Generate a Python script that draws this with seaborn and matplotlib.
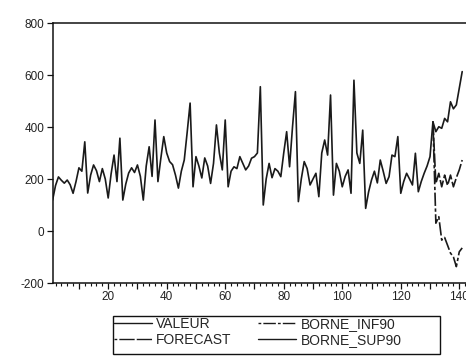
import numpy as np
import pandas as pd
import matplotlib
matplotlib.use("Agg")
import matplotlib.pyplot as plt
from matplotlib.ticker import MultipleLocator, FuncFormatter
from matplotlib.lines import Line2D
from matplotlib.patches import Rectangle
import seaborn as sns

# Observed series, periods 1..131
valeur = [
    119, 175, 208, 195, 184, 196, 178, 145, 190, 243,
    230, 343, 146, 215, 254, 232, 190, 240, 200, 127,
    220, 292, 190, 357, 119, 180, 223, 243, 225, 254,
    210, 119, 250, 324, 210, 427, 190, 280, 363, 300,
    267, 255, 215, 165, 230, 273, 380, 492, 170, 286,
    250, 204, 281, 250, 183, 260, 408, 300, 235, 427,
    170, 230, 247, 240, 286, 260, 235, 250, 280, 286,
    300, 555, 100, 200, 260, 205, 240, 230, 209, 300,
    382, 247, 400, 536, 113, 200, 267, 240, 177, 200,
    222, 132, 300, 350, 292, 523, 138, 260, 230, 170,
    210, 235, 145, 580, 300, 260, 388, 87, 150, 196,
    230, 185, 273, 230, 183, 209, 292, 286, 363, 145,
    190, 222, 200, 177, 299, 151, 190, 222, 250, 286,
    420,
]
# Forecast horizon, periods 131..141 (starts from the last observation)
forecast = [420, 183, 222, 170, 215, 175, 215, 170, 205, 235, 273]
borne_inf90 = [420, 30, 55, -35, -25, -55, -85, -100, -137, -80, -65]
borne_sup90 = [420, 382, 401, 395, 433, 420, 497, 470, 485, 549, 613]

y_ticks = [-200, 0, 200, 400, 600, 800]
x_labels = [20, 40, 60, 80, 100, 120, 140]

t_obs = np.arange(1, len(valeur) + 1)
t_fc = np.arange(len(valeur), len(valeur) + len(forecast))

df_obs = pd.DataFrame({"t": t_obs, "v": valeur})
df_fc = pd.DataFrame({"t": t_fc, "fc": forecast,
                      "inf": borne_inf90, "sup": borne_sup90})

sns.set_style("white")
plt.rcParams["font.family"] = ["Liberation Sans", "DejaVu Sans"]
plt.rcParams["axes.unicode_minus"] = False

W, H = 466, 356
fig = plt.figure(figsize=(W / 100, H / 100), dpi=100)
ax = fig.add_axes([52.6 / W, 1 - 283 / H, 1 - 52.6 / W, 260 / H])

line_kw = dict(color="#1a1a1a", linewidth=1.2, ax=ax, legend=False)
sns.lineplot(data=df_obs, x="t", y="v", **line_kw)
sns.lineplot(data=df_fc, x="t", y="fc", **line_kw)
sns.lineplot(data=df_fc, x="t", y="inf", **line_kw)
sns.lineplot(data=df_fc, x="t", y="sup", **line_kw)
ax.lines[1].set_dashes((8, 1.5))
ax.lines[2].set_dashes((2, 1.5, 8, 1.5))

ax.set_xlim(1, 142.3)
ax.set_ylim(-200, 800)
ax.set_xlabel("")
ax.set_ylabel("")

ax.set_yticks(y_ticks)
ax.xaxis.set_major_locator(MultipleLocator(10))
ax.xaxis.set_minor_locator(MultipleLocator(2))
ax.xaxis.set_major_formatter(
    FuncFormatter(lambda v, p: f"{int(v)}" if int(v) in x_labels else ""))

for side in ["left", "bottom", "top"]:
    ax.spines[side].set_visible(True)
    ax.spines[side].set_color("#111111")
    ax.spines[side].set_linewidth(1.1)
ax.spines["right"].set_visible(False)

ax.tick_params(axis="y", which="major", direction="out", length=4, width=0.9,
               labelsize=8.5, labelcolor="#222222", color="#111111", pad=2, left=True)
ax.tick_params(axis="x", which="major", direction="out", length=4, width=0.9,
               labelsize=8.5, labelcolor="#222222", color="#111111", pad=2, bottom=True)
ax.tick_params(axis="x", which="minor", direction="out", length=2.2, width=0.8,
               color="#111111", bottom=True)

handles = [
    Line2D([], [], color="#1a1a1a", lw=1.0),
    Line2D([], [], color="#1a1a1a", lw=1.0, dashes=(2, 1.5, 9, 0.01)),
    Line2D([], [], color="#1a1a1a", lw=1.0, dashes=(2, 1.5, 9, 1.5)),
    Line2D([], [], color="#1a1a1a", lw=1.0),
]
labels = ["VALEUR", "FORECAST", "BORNE_INF90", "BORNE_SUP90"]
leg = fig.legend(handles, labels, ncol=2, loc="upper left",
                 bbox_to_anchor=(114 / W, 1 - 317 / H),
                 frameon=False, fontsize=10, handlelength=2.7,
                 handletextpad=0.35, borderpad=0.0, labelspacing=0.12,
                 columnspacing=1.9, borderaxespad=0)

# legend box
fig.add_artist(Rectangle((113 / W, 1 - 354 / H), (440 - 113) / W, (354 - 316) / H,
                         transform=fig.transFigure, fill=False,
                         edgecolor="#111111", linewidth=1.0))

fig.savefig("out.png", dpi=100, facecolor="white")
